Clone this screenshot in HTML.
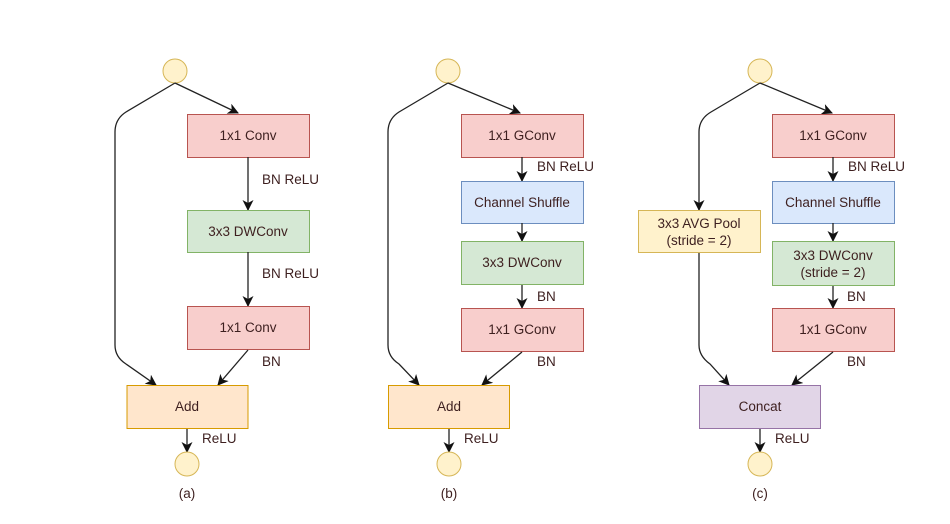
<!DOCTYPE html>
<html><head><meta charset="utf-8"><style>
html,body{margin:0;padding:0;background:#fff;}
svg{display:block;}
text{font-family:"Liberation Sans",sans-serif;font-size:13.5px;fill:#3d1f1f;}
.l{stroke:#222;stroke-width:1.3;fill:none;}
</style></head><body>
<svg width="950" height="524" viewBox="0 0 950 524" xmlns="http://www.w3.org/2000/svg">
<defs><marker id="a" markerWidth="12" markerHeight="12" refX="10" refY="5.5" orient="auto" markerUnits="userSpaceOnUse"><path d="M0,0 L11,5.5 L0,11 L3,5.5 z" fill="#111"/></marker></defs>

<!-- Panel a -->
<g>
<circle cx="175" cy="71" r="12" fill="#fff2cc" stroke="#d6b656"/>
<path class="l" d="M175,83 L238,113" marker-end="url(#a)"/>
<path class="l" d="M175,83 L126,112 Q115,119 115,132 L115,345 Q115,357 126,364 L156,385" marker-end="url(#a)"/>
<rect x="187.5" y="114.5" width="122" height="43" fill="#f8cecc" stroke="#b85450"/>
<text x="248" y="140" text-anchor="middle">1x1 Conv</text>
<path class="l" d="M248,157 L248,210" marker-end="url(#a)"/>
<text x="262" y="184">BN ReLU</text>
<rect x="187.5" y="210.5" width="122" height="42" fill="#d5e8d4" stroke="#82b366"/>
<text x="248" y="236" text-anchor="middle">3x3 DWConv</text>
<path class="l" d="M248,252 L248,306" marker-end="url(#a)"/>
<text x="262" y="278">BN ReLU</text>
<rect x="187.5" y="306.5" width="122" height="43" fill="#f8cecc" stroke="#b85450"/>
<text x="248" y="332" text-anchor="middle">1x1 Conv</text>
<path class="l" d="M248,350 L218,385" marker-end="url(#a)"/>
<text x="262" y="366">BN</text>
<rect x="127" y="385.5" width="121" height="43" fill="#ffe6cc" stroke="#d79b00"/>
<text x="187" y="411" text-anchor="middle">Add</text>
<path class="l" d="M187,429 L187,452" marker-end="url(#a)"/>
<text x="202" y="443">ReLU</text>
<circle cx="187" cy="464" r="12" fill="#fff2cc" stroke="#d6b656"/>
<text x="187" y="498" text-anchor="middle" font-size="12">(a)</text>
</g>

<!-- Panel b -->
<g>
<circle cx="448" cy="71" r="12" fill="#fff2cc" stroke="#d6b656"/>
<path class="l" d="M448,83 L520,113" marker-end="url(#a)"/>
<path class="l" d="M448,83 L399,112 Q388,119 388,132 L388,345 Q388,357 399,364 L419,385" marker-end="url(#a)"/>
<rect x="461.5" y="114.5" width="122" height="43" fill="#f8cecc" stroke="#b85450"/>
<text x="522" y="140" text-anchor="middle">1x1 GConv</text>
<path class="l" d="M522,157 L522,181" marker-end="url(#a)"/>
<text x="537" y="171">BN ReLU</text>
<rect x="461.5" y="181.5" width="122" height="42" fill="#dae8fc" stroke="#6c8ebf"/>
<text x="522" y="207" text-anchor="middle">Channel Shuffle</text>
<path class="l" d="M522,223 L522,241" marker-end="url(#a)"/>
<rect x="461.5" y="241.5" width="122" height="43" fill="#d5e8d4" stroke="#82b366"/>
<text x="522" y="267" text-anchor="middle">3x3 DWConv</text>
<path class="l" d="M522,285 L522,308" marker-end="url(#a)"/>
<text x="537" y="301">BN</text>
<rect x="461.5" y="308.5" width="122" height="43" fill="#f8cecc" stroke="#b85450"/>
<text x="522" y="334" text-anchor="middle">1x1 GConv</text>
<path class="l" d="M522,352 L482,385" marker-end="url(#a)"/>
<text x="537" y="366">BN</text>
<rect x="388.5" y="385.5" width="121" height="43" fill="#ffe6cc" stroke="#d79b00"/>
<text x="449" y="411" text-anchor="middle">Add</text>
<path class="l" d="M449,429 L449,452" marker-end="url(#a)"/>
<text x="464" y="443">ReLU</text>
<circle cx="449" cy="464" r="12" fill="#fff2cc" stroke="#d6b656"/>
<text x="449" y="498" text-anchor="middle" font-size="12">(b)</text>
</g>

<!-- Panel c -->
<g>
<circle cx="760" cy="71" r="12" fill="#fff2cc" stroke="#d6b656"/>
<path class="l" d="M760,83 L832,113" marker-end="url(#a)"/>
<path class="l" d="M760,83 L711,112 Q699,119 699,132 L699,210" marker-end="url(#a)"/>
<rect x="638.5" y="210.5" width="122" height="42" fill="#fff2cc" stroke="#d6b656"/>
<text x="699" y="228" text-anchor="middle">3x3 AVG Pool</text>
<text x="699" y="245" text-anchor="middle">(stride = 2)</text>
<path class="l" d="M699,253 L699,345 Q699,356 710,364 L729,385" marker-end="url(#a)"/>
<rect x="772.5" y="114.5" width="122" height="43" fill="#f8cecc" stroke="#b85450"/>
<text x="833" y="140" text-anchor="middle">1x1 GConv</text>
<path class="l" d="M833,157 L833,181" marker-end="url(#a)"/>
<text x="848" y="171">BN ReLU</text>
<rect x="772.5" y="181.5" width="122" height="42" fill="#dae8fc" stroke="#6c8ebf"/>
<text x="833" y="207" text-anchor="middle">Channel Shuffle</text>
<path class="l" d="M833,223 L833,241" marker-end="url(#a)"/>
<rect x="772.5" y="241.5" width="122" height="44" fill="#d5e8d4" stroke="#82b366"/>
<text x="833" y="260" text-anchor="middle">3x3 DWConv</text>
<text x="833" y="277" text-anchor="middle">(stride = 2)</text>
<path class="l" d="M833,286 L833,308" marker-end="url(#a)"/>
<text x="847" y="301">BN</text>
<rect x="772.5" y="308.5" width="122" height="43" fill="#f8cecc" stroke="#b85450"/>
<text x="833" y="334" text-anchor="middle">1x1 GConv</text>
<path class="l" d="M833,352 L792,385" marker-end="url(#a)"/>
<text x="847" y="366">BN</text>
<rect x="699.5" y="385.5" width="121" height="43" fill="#e1d5e7" stroke="#9673a6"/>
<text x="760" y="411" text-anchor="middle">Concat</text>
<path class="l" d="M760,429 L760,452" marker-end="url(#a)"/>
<text x="775" y="443">ReLU</text>
<circle cx="760" cy="464" r="12" fill="#fff2cc" stroke="#d6b656"/>
<text x="760" y="498" text-anchor="middle" font-size="12">(c)</text>
</g>
</svg>
</body></html>
